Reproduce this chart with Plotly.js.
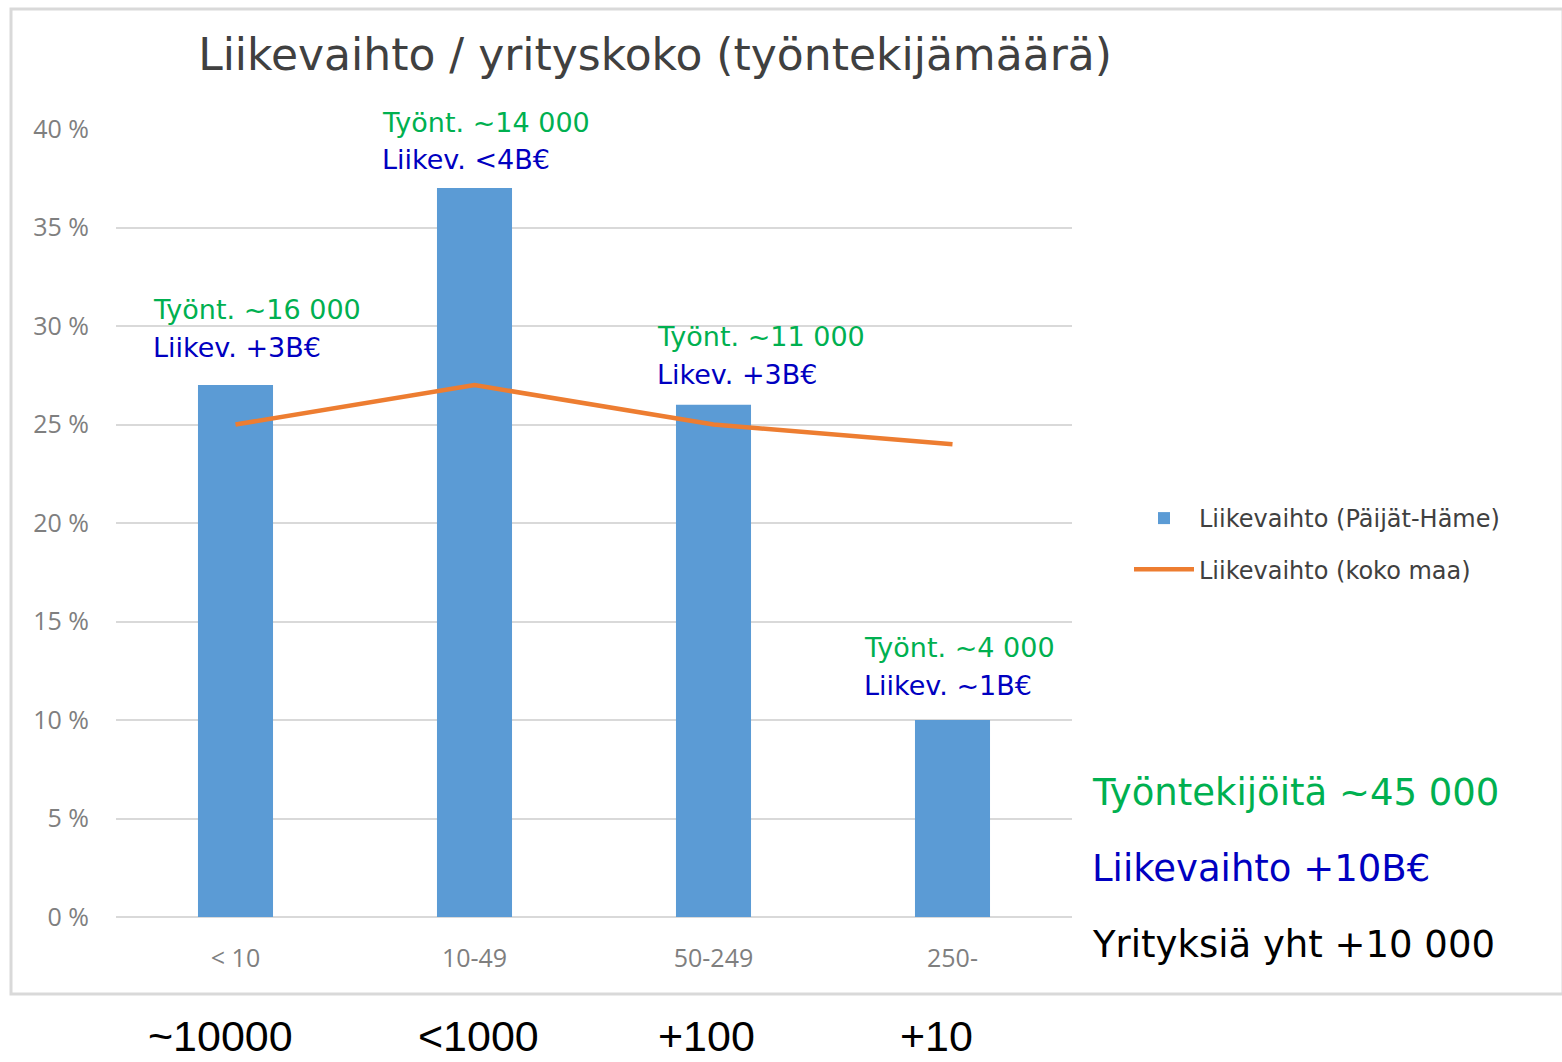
<!DOCTYPE html>
<html>
<head>
<meta charset="utf-8">
<script src="https://cdn.plot.ly/plotly-3.0.1.min.js"></script>
<style>
html,body{margin:0;padding:0;background:#fff;}
#chart{width:1562px;height:1062px;}
</style>
</head>
<body>
<div id="chart"></div>
<script>
const categories = ["< 10", "10-49", "50-249", "250-"];
const regionValues = [27, 37, 26, 10];
const nationalValues = [25, 27, 25, 24];
const employeeLabels = ["Työnt. ~16 000", "Työnt. ~14 000", "Työnt. ~11 000", "Työnt. ~4 000"];
const revenueLabels = ["Liikev. +3B€", "Liikev. <4B€", "Likev. +3B€", "Liikev. ~1B€"];
const companyCounts = ["~10000", "<1000", "+100", "+10"];
const summaryLines = ["Työntekijöitä ~45 000", "Liikevaihto +10B€", "Yrityksiä yht +10 000"];
const summaryColors = ["#00b050", "#0000c0", "#000000"];

// label positions (style only)
const labelXShift = [-85, -95, -59, -91];
const labelY = [309, 122, 336, 647];
const countXShift = [-15, 4, -7, -16];

const L = 116, R = 1072, T = 129, B = 917;
const W = R - L, H = B - T;
const px = x => (x - L) / W;
const py = y => (B - y) / H;

const traces = [
  {
    type: 'bar', x: categories, y: regionValues,
    name: 'Liikevaihto (Päijät-Häme)', legendgroup: 'a',
    marker: {color: '#5b9bd5'},
    hoverinfo: 'skip'
  },
  {
    type: 'scatter', mode: 'lines', x: categories, y: nationalValues,
    name: 'Liikevaihto (koko maa)', legendgroup: 'b',
    line: {color: '#ed7d31', width: 4.5},
    hoverinfo: 'skip'
  }
];

const annotations = [];
categories.forEach((c, i) => {
  annotations.push({
    x: c, xref: 'x', y: py(labelY[i]), yref: 'paper',
    text: employeeLabels[i], showarrow: false,
    xanchor: 'left', yanchor: 'middle', xshift: labelXShift[i],
    font: {family: 'DejaVu Sans', size: 27, color: '#00b050'}
  });
  annotations.push({
    x: c, xref: 'x', y: py(labelY[i] + 38), yref: 'paper',
    text: revenueLabels[i], showarrow: false,
    xanchor: 'left', yanchor: 'middle', xshift: labelXShift[i],
    font: {family: 'DejaVu Sans', size: 27, color: '#0000c0'}
  });
  annotations.push({
    x: c, xref: 'x', y: py(1036), yref: 'paper',
    text: companyCounts[i], showarrow: false,
    xanchor: 'center', yanchor: 'middle', xshift: countXShift[i],
    font: {family: 'Liberation Sans', size: 43, color: '#000000'}
  });
});
const summaryY = [792, 868, 944];
summaryLines.forEach((t, i) => {
  annotations.push({
    x: px(1090), xref: 'paper', y: py(summaryY[i]), yref: 'paper',
    text: t, showarrow: false, xanchor: 'left', yanchor: 'middle',
    font: {family: 'DejaVu Sans', size: 37, color: summaryColors[i]}
  });
});

const layout = {
  width: 1562, height: 1062,
  margin: {l: L, r: 1562 - R, t: T, b: 1062 - B, pad: 0},
  paper_bgcolor: '#ffffff', plot_bgcolor: '#ffffff',
  title: {
    text: 'Liikevaihto / yrityskoko (työntekijämäärä)',
    font: {family: 'DejaVu Sans', size: 44, color: '#404040'},
    x: px(655), xref: 'paper', xanchor: 'center',
    y: 1 - 55 / 1062, yref: 'container', yanchor: 'middle'
  },
  bargap: 0.686,
  showlegend: true,
  legend: {
    x: px(1129), y: py(544), xanchor: 'left', yanchor: 'middle',
    font: {family: 'DejaVu Sans', size: 24, color: '#404040'},
    tracegroupgap: 17, itemwidth: 60, bgcolor: 'rgba(0,0,0,0)'
  },
  xaxis: {
    type: 'category',
    showgrid: false, zeroline: false, showline: false,
    ticks: '', ticklabelstandoff: 24,
    tickfont: {family: 'Open Sans', size: 25, color: '#7f7f7f'},
    fixedrange: true
  },
  yaxis: {
    range: [0, 40], dtick: 5, tick0: 0,
    ticksuffix: ' %',
    showgrid: true, gridcolor: '#d9d9d9', gridwidth: 2,
    zeroline: true, zerolinecolor: '#d9d9d9', zerolinewidth: 2,
    showline: false, ticks: '', ticklabelstandoff: 26,
    tickfont: {family: 'Open Sans', size: 25, color: '#7f7f7f'},
    fixedrange: true
  },
  shapes: [{
    type: 'rect', xref: 'paper', yref: 'paper',
    x0: px(11), x1: px(1563), y0: py(994), y1: py(9),
    line: {color: '#d9d9d9', width: 3}, fillcolor: 'rgba(0,0,0,0)', layer: 'below'
  }],
  annotations: annotations
};

Plotly.newPlot('chart', traces, layout, {displayModeBar: false, staticPlot: true});
</script>
</body>
</html>
